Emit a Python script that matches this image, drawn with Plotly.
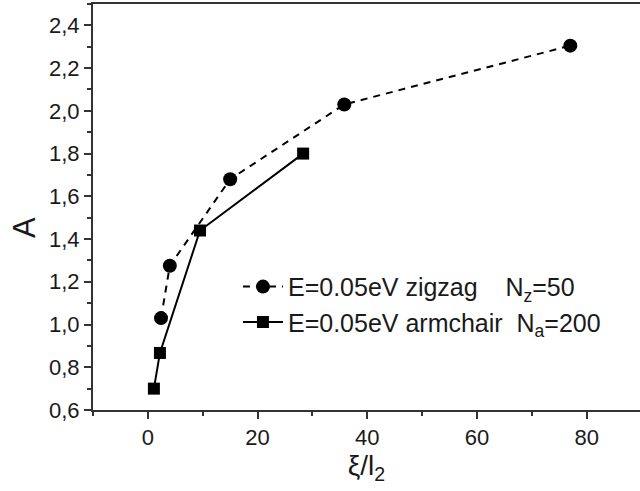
import plotly.graph_objects as go

# zigzag ribbon, E = 0.05 eV, N_z = 50
zigzag_x = [2.4, 4.0, 15.0, 35.8, 77.0]
zigzag_A = [1.03, 1.275, 1.68, 2.03, 2.305]

# armchair ribbon, E = 0.05 eV, N_a = 200
armchair_x = [1.1, 2.2, 9.5, 28.3]
armchair_A = [0.70, 0.867, 1.44, 1.80]

x_ticks = [0, 20, 40, 60, 80]
y_ticks = [0.6, 0.8, 1.0, 1.2, 1.4, 1.6, 1.8, 2.0, 2.2, 2.4]

FONT = "Liberation Sans, Arial, sans-serif"
AXIS_COLOR = "#333333"

fig = go.Figure()
fig.add_trace(go.Scatter(
    x=zigzag_x, y=zigzag_A, mode="lines+markers",
    name="E=0.05eV zigzag    N<sub>z</sub>=50",
    line=dict(color="black", width=2, dash="7px,6px"),
    marker=dict(symbol="circle", size=14, color="black"),
))
fig.add_trace(go.Scatter(
    x=armchair_x, y=armchair_A, mode="lines+markers",
    name="E=0.05eV armchair  N<sub>a</sub>=200",
    line=dict(color="black", width=2),
    marker=dict(symbol="square", size=12, color="black"),
))

fig.update_layout(
    width=640, height=491,
    margin=dict(l=93, r=0, t=4, b=81),
    paper_bgcolor="white", plot_bgcolor="white",
    separators=",.",
    font=dict(family=FONT, size=22, color="#1a1a1a"),
    showlegend=True,
    legend=dict(
        x=0.265, y=0.36, xanchor="left", yanchor="top",
        bgcolor="rgba(0,0,0,0)", font=dict(size=25, color="#1a1a1a"),
        tracegroupgap=0, itemwidth=40,
    ),
    # y-axis title placed as a rotated label beside the tick labels
    annotations=[dict(
        text="A", textangle=-90, xref="paper", yref="paper",
        x=-0.125, y=0.45, xanchor="center", yanchor="middle",
        showarrow=False, font=dict(size=31, color="#1a1a1a"),
    )],
)
fig.update_xaxes(
    range=[-10, 89.7], tickvals=x_ticks, ticks="outside", ticklen=7,
    tickwidth=1.5, tickcolor=AXIS_COLOR,
    minor=dict(dtick=10, tick0=0, ticks="outside", ticklen=4, tickcolor=AXIS_COLOR, tickwidth=1.5),
    showline=True, linewidth=2, linecolor=AXIS_COLOR, mirror=True,
    showgrid=False, zeroline=False,
    title=dict(text="ξ/l<sub>2</sub>", font=dict(size=28), standoff=4),
)
fig.update_yaxes(
    range=[0.6, 2.5], tickvals=y_ticks, tickformat=".1f", ticks="outside", ticklen=7,
    tickwidth=1.5, tickcolor=AXIS_COLOR,
    minor=dict(dtick=0.1, tick0=0.6, ticks="outside", ticklen=4, tickcolor=AXIS_COLOR, tickwidth=1.5),
    showline=True, linewidth=2, linecolor=AXIS_COLOR, mirror=False,
    showgrid=False, zeroline=False,
)

fig.write_html("out.html")
